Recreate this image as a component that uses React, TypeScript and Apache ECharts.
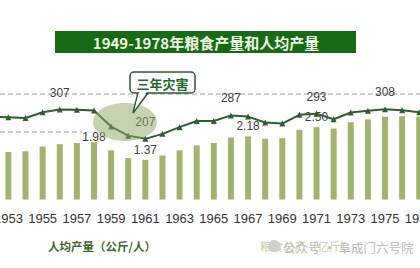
import { useEffect, useRef } from 'react';
import * as echarts from 'echarts';

const years = ['1952','1953','1954','1955','1956','1957','1958','1959','1960','1961','1962','1963','1964','1965','1966','1967','1968','1969','1970','1971','1972','1973','1974','1975','1976','1977'];
const grainOutput = [null,1.64,1.67,1.83,1.91,1.95,1.98,1.70,1.43,1.37,1.52,1.70,1.87,1.95,2.14,2.18,2.10,2.12,2.41,2.50,2.45,2.67,2.77,2.86,2.88,2.87];
const perCapita = [283,281,278,298,307,306,304,249,218,207,224,247,268,268,287,283,263,259,289,293,274,297,303,308,305,298];
const perCapitaLabelYears = ['1956','1961','1966','1971','1975'];
const grainLabelYears = ['1958','1961','1967','1971'];
const titleText = '1949-1978年粮食产量和人均产量';
const calloutText = '三年灾害';
const lineName = '人均产量（公斤/人）';
const barName = '粮食总产（亿斤）';
const watermarkText = '公众号 · 阜成门六号院';

const O = 40;
const NUM_FONT = '"Liberation Sans", Arial, sans-serif';
const CJK_FONT = '"Noto Sans CJK SC", sans-serif';

export default function App() {
  const ref = useRef<HTMLDivElement>(null);
  useEffect(() => {
    const chart = echarts.init(ref.current as HTMLDivElement, null, { renderer: 'svg' });
    chart.setOption({
      animation: false,
      backgroundColor: '#ffffff',
      grid: { left: 22.72, right: 32.2, top: 82.3, bottom: 68.5 },
      xAxis: {
        type: 'category',
        data: years,
        boundaryGap: true,
        axisLine: { show: false },
        axisTick: { show: false },
        axisLabel: {
          interval: (i: number, v: string) => Number(v) % 2 === 1,
          color: '#333333',
          fontSize: 13,
          fontFamily: NUM_FONT,
          margin: 12,
        },
      },
      yAxis: [
        { type: 'value', min: 0, max: 4.05, show: false, splitLine: { show: false } },
        { type: 'value', min: 0, max: 400, show: false, splitLine: { show: false } },
      ],
      legend: [
        {
          data: [lineName], left: 38 + O, top: 235, icon: 'rect', itemWidth: 0, itemHeight: 0,
          selectedMode: false,
          textStyle: { color: '#3c6a2c', fontSize: 11.5, fontWeight: 'bold', fontFamily: CJK_FONT },
        },
        {
          data: [barName], left: 250 + O, top: 235, icon: 'rect', itemWidth: 0, itemHeight: 0,
          selectedMode: false,
          textStyle: { color: '#bfd2a0', fontSize: 11.5, fontFamily: CJK_FONT },
        },
      ],
      series: [
        {
          name: barName,
          type: 'bar',
          yAxisIndex: 0,
          barWidth: 6,
          itemStyle: { color: '#a0b46e' },
          label: {
            show: false, position: 'top', color: '#404040', fontSize: 12, fontFamily: NUM_FONT,
            formatter: (p: any) => Number(p.value).toFixed(2),
          },
          data: grainOutput.map((v, i) =>
            grainLabelYears.includes(years[i])
              ? { value: v, label: { show: true, distance: years[i] === '1958' ? -1 : 4 } }
              : v),
          z: 2,
        },
        {
          name: lineName,
          type: 'line',
          yAxisIndex: 1,
          symbol: 'triangle',
          symbolSize: 6,
          itemStyle: { color: '#2e5e2a' },
          lineStyle: { color: '#2e5e2a', width: 2 },
          label: {
            show: false, position: 'top', distance: 8, color: '#404040', fontSize: 12, fontFamily: NUM_FONT,
          },
          data: perCapita.map((v, i) =>
            perCapitaLabelYears.includes(years[i]) ? { value: v, label: { show: true } } : v),
          z: 3,
        },
      ],
      graphic: [
        { type: 'line', z: 1, shape: { x1: O, y1: 94, x2: 420 + O, y2: 94 }, style: { stroke: '#9a9a9a', lineWidth: 1, lineDash: [5, 3] } },
        { type: 'line', z: 1, shape: { x1: O, y1: 132, x2: 82 + O, y2: 132 }, style: { stroke: '#9a9a9a', lineWidth: 1, lineDash: [5, 3] } },
        { type: 'rect', z: 5, shape: { x: 55 + O, y: 31, width: 301, height: 22 }, style: { fill: '#166b14' } },
        {
          type: 'text', z: 6,
          style: { text: titleText, x: 206 + O, y: 42.5, align: 'center', verticalAlign: 'middle', fill: '#eef7e4', fontSize: 15, fontWeight: 'bold', fontFamily: CJK_FONT },
        },
        { type: 'ellipse', z: 10, shape: { cx: 125 + O, cy: 122, rx: 32, ry: 19 }, style: { fill: 'rgba(140,168,100,0.5)' } },
        { type: 'rect', z: 20, shape: { x: 130 + O, y: 72, width: 65, height: 21, r: 4 }, style: { fill: '#ffffff', stroke: '#2a5a2a', lineWidth: 1.5 } },
        { type: 'polyline', z: 21, shape: { points: [[138 + O, 93], [133 + O, 113], [148 + O, 93]] }, style: { stroke: '#2a5a2a', lineWidth: 1.5, fill: null } },
        { type: 'polygon', z: 21, shape: { points: [[139 + O, 92], [134.5 + O, 110], [146.5 + O, 92]] }, style: { fill: '#ffffff' } },
        {
          type: 'text', z: 22,
          style: { text: calloutText, x: 162.5 + O, y: 83, align: 'center', verticalAlign: 'middle', fill: '#1e6a28', fontSize: 13, fontWeight: 'bold', fontFamily: CJK_FONT },
        },
        { type: 'circle', z: 5, shape: { cx: 274 + O, cy: 246, r: 6 }, style: { fill: '#cfcfcf' } },
        {
          type: 'text', z: 6,
          style: { text: watermarkText, x: 283 + O, y: 247, align: 'left', verticalAlign: 'middle', fill: '#b8b8b8', fontSize: 12.5, fontFamily: CJK_FONT },
        },
      ],
    });
    return () => chart.dispose();
  }, []);
  return (
    <div style={{ position: 'fixed', left: 0, top: 0, width: 420, height: 268, overflow: 'hidden', background: '#ffffff' }}>
      <div ref={ref} style={{ position: 'absolute', left: -O, top: 0, width: 500, height: 268 }} />
    </div>
  );
}
